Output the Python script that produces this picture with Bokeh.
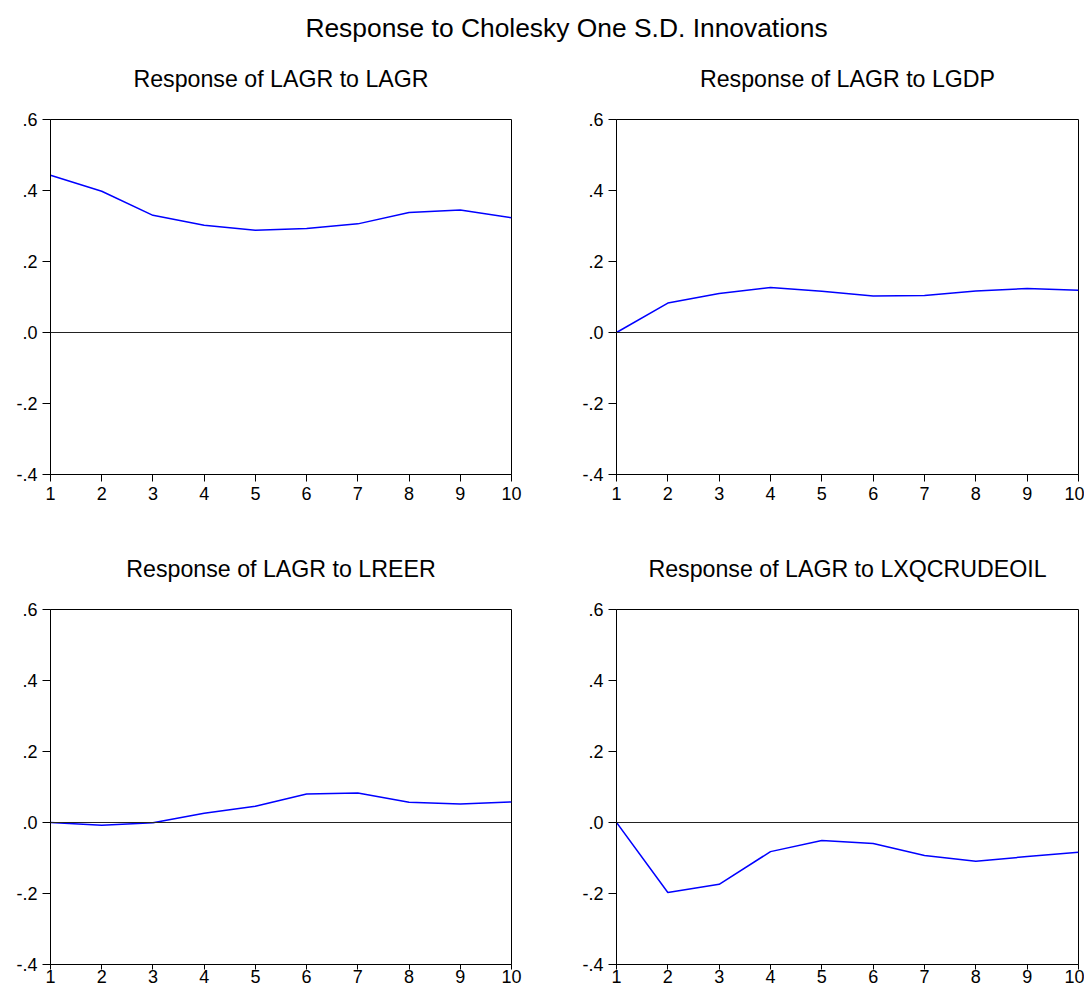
from bokeh.plotting import figure
from bokeh.layouts import column, row
from bokeh.models import FixedTicker, Span
from bokeh.core.properties import value
from bokeh.embed import file_html
from bokeh.resources import INLINE

FONT = "Liberation Sans"

periods = [1, 2, 3, 4, 5, 6, 7, 8, 9, 10]
resp_lagr = [0.443, 0.398, 0.330, 0.302, 0.288, 0.293, 0.306, 0.338, 0.345, 0.323]
resp_lgdp = [0.000, 0.083, 0.110, 0.127, 0.116, 0.103, 0.104, 0.117, 0.124, 0.119]
resp_lreer = [0.000, -0.008, -0.001, 0.026, 0.046, 0.080, 0.083, 0.057, 0.052, 0.058]
resp_lxq = [0.000, -0.197, -0.174, -0.082, -0.051, -0.059, -0.093, -0.109, -0.096, -0.084]

y_ticks = [-0.4, -0.2, 0.0, 0.2, 0.4, 0.6]
y_tick_labels = ["-.4", "-.2", ".0", ".2", ".4", ".6"]
x_ticks = periods
x_tick_labels = [str(v) for v in periods]

main_title = "Response to Cholesky One S.D. Innovations"
titles = ["Response of LAGR to LAGR", "Response of LAGR to LGDP",
          "Response of LAGR to LREER", "Response of LAGR to LXQCRUDEOIL"]
series = [resp_lagr, resp_lgdp, resp_lreer, resp_lxq]

W = 1084
L1, FW1 = 50, 461
L2, FW2 = 74, 462
PW = 542
FH = 355


def panel(ys, left, frame_w, top, total_h, xtick_out, xstandoff):
    p = figure(width=PW, height=total_h, x_range=(1, 10), y_range=(-0.4, 0.6),
               output_backend="svg", toolbar_location=None, title=None,
               min_border_left=left, min_border_right=PW - left - frame_w,
               min_border_top=top, min_border_bottom=total_h - top - FH)
    p.grid.visible = False
    p.background_fill_color = "white"
    p.border_fill_color = "white"
    p.outline_line_color = "black"
    p.outline_line_width = 1
    p.line(periods, ys, line_color="#0000FF", line_width=1.5)
    p.add_layout(Span(location=0, dimension="width", line_color="#222222", line_width=1))

    p.xaxis.ticker = FixedTicker(ticks=x_ticks)
    p.xaxis.major_label_overrides = {v: s for v, s in zip(x_ticks, x_tick_labels)}
    p.yaxis.ticker = FixedTicker(ticks=y_ticks)
    p.yaxis.major_label_overrides = {v: s for v, s in zip(y_ticks, y_tick_labels)}
    for ax in (p.xaxis[0], p.yaxis[0]):
        ax.minor_tick_line_color = None
        ax.major_tick_in = 0
        ax.axis_line_color = "black"
        ax.major_tick_line_color = "black"
        ax.major_label_text_font = FONT
        ax.major_label_text_font_size = "18px"
        ax.major_label_text_color = "#000000"
    p.yaxis.major_tick_out = 8
    p.yaxis.major_label_standoff = 5
    p.xaxis.major_tick_out = xtick_out
    p.xaxis.major_label_standoff = xstandoff
    return p


def strip(h):
    s = figure(width=W, height=h, x_range=(0, W), y_range=(0, h),
               output_backend="svg", toolbar_location=None, title=None, min_border=0,
               x_axis_location=None, y_axis_location=None)
    s.grid.visible = False
    s.outline_line_color = None
    return s


c1 = L1 + FW1 / 2
c2 = PW + L2 + FW2 / 2

SA = 100
sa = strip(SA)
sa.text(x=[566], y=[SA - 27], text=[main_title], text_font=value(FONT),
        text_font_size="26.4px", text_align="center", text_baseline="middle",
        text_color="black")
sa.text(x=[c1, c2], y=[SA - 78, SA - 78], text=titles[:2], text_font=value(FONT),
        text_font_size="23.2px", text_align="center", text_baseline="middle",
        text_color="black")

p1 = panel(series[0], L1, FW1, 19, 410, 7, 5)
p2 = panel(series[1], L2, FW2, 19, 410, 7, 5)

SB = 80
sb = strip(SB)
sb.text(x=[c1, c2], y=[22, 22], text=titles[2:], text_font=value(FONT),
        text_font_size="23.2px", text_align="center", text_baseline="middle",
        text_color="black")

p3 = panel(series[2], L1, FW1, 19, 397, 5, 0)
p4 = panel(series[3], L2, FW2, 19, 397, 5, 0)

layout = column(sa, row(p1, p2), sb, row(p3, p4))

with open("out.html", "w") as f:
    f.write(file_html(layout, INLINE))
